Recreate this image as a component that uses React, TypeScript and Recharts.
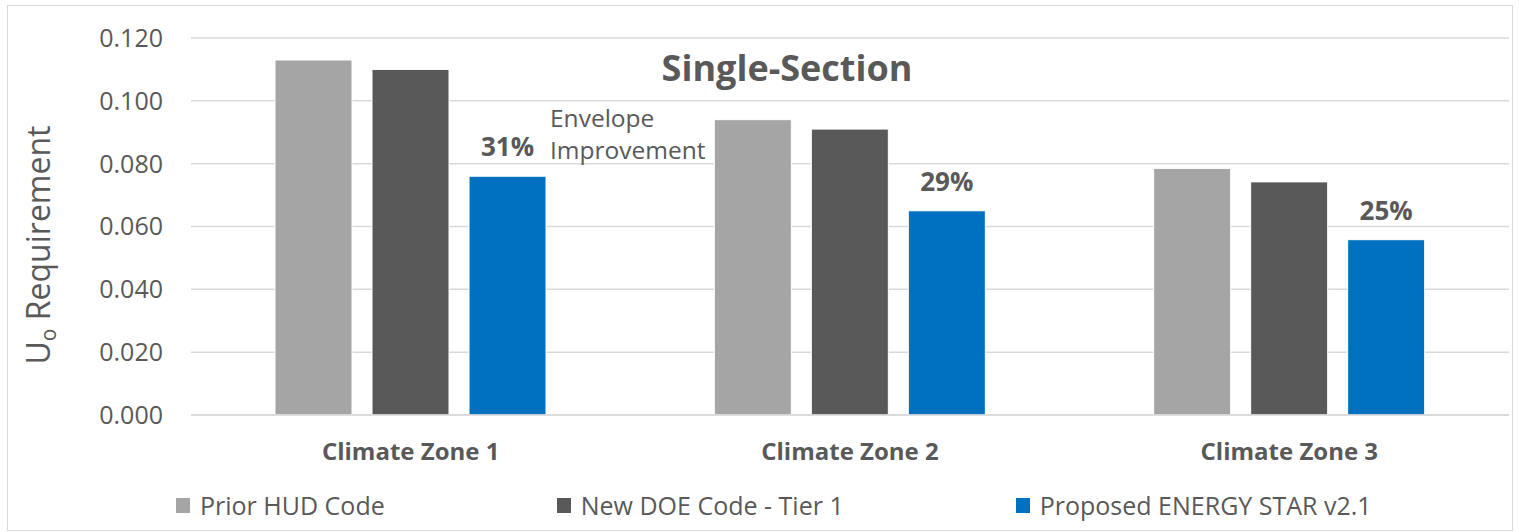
import { BarChart, Bar, XAxis, YAxis, CartesianGrid, LabelList, Label } from 'recharts';

// Valori (U_o richiesto per zona climatica)
const zones = ['Climate Zone 1', 'Climate Zone 2', 'Climate Zone 3'];
const priorHud = [0.113, 0.094, 0.0785];
const newDoe = [0.11, 0.091, 0.0742];
const energyStar = [0.076, 0.065, 0.0558];
const improvement = ['31%', '29%', '25%'];
const yTicks = [0, 0.02, 0.04, 0.06, 0.08, 0.1, 0.12];

const seriesNames = ['Prior HUD Code', 'New DOE Code - Tier 1', 'Proposed ENERGY STAR v2.1'];
const GRAY = '#A5A5A5';
const DARK = '#595959';
const BLUE = '#0070C0';
const TEXT = '#595959';
const GRID = '#D9D9D9';
const FONT = '"Open Sans", "Noto Sans", sans-serif';

const data = zones.map((zone, i) => ({
  zone,
  prior: priorHud[i],
  doe: newDoe[i],
  star: energyStar[i],
}));

function PctLabel(props: any) {
  const { x, y, width, index } = props;
  return (
    <text
      x={Number(x) + Number(width) / 2}
      y={Number(y) - 20}
      textAnchor="middle"
      fill={TEXT}
      fontSize={26}
      fontWeight={700}
      fontFamily={FONT}
    >
      {improvement[index]}
    </text>
  );
}

function YTitle() {
  return (
    <text
      x={33}
      y={239}
      transform="rotate(-90 33 239)"
      textAnchor="middle"
      dominantBaseline="middle"
      fill={TEXT}
      fontSize={32}
      fontFamily={FONT}
    >
      U<tspan fontSize={21} dy={9}>o</tspan>
      <tspan dy={-9}> Requirement</tspan>
    </text>
  );
}

export default function App() {
  const colors = [GRAY, DARK, BLUE];
  return (
    <div
      style={{
        position: 'absolute',
        left: 7,
        top: 5,
        width: 1506,
        height: 526,
        border: `1px solid ${GRID}`,
        boxSizing: 'border-box',
        background: '#fff',
        fontFamily: FONT,
      }}
    >
      <BarChart
        width={1504}
        height={524}
        data={data}
        margin={{ top: 32, right: 3, left: 0, bottom: 85 }}
        barSize={77}
        barGap={20}
      >
        <CartesianGrid stroke={GRID} strokeWidth={1.5} vertical={false} />
        <XAxis
          dataKey="zone"
          height={30}
          axisLine={{ stroke: GRID, strokeWidth: 1.5 }}
          tickLine={false}
          tickMargin={22}
          tick={{ fill: TEXT, fontSize: 24, fontWeight: 700, fontFamily: FONT }}
        />
        <YAxis
          width={183}
          domain={[0, 0.12]}
          ticks={yTicks}
          tickFormatter={(v) => Number(v).toFixed(3)}
          axisLine={false}
          tickLine={false}
          tickMargin={22}
          tick={{ fill: TEXT, fontSize: 25, fontFamily: FONT }}
        >
          <Label content={<YTitle />} />
        </YAxis>
        <Bar dataKey="prior" fill={GRAY} stroke="#fff" strokeWidth={1} isAnimationActive={false} />
        <Bar dataKey="doe" fill={DARK} stroke="#fff" strokeWidth={1} isAnimationActive={false} />
        <Bar dataKey="star" fill={BLUE} stroke="#fff" strokeWidth={1} isAnimationActive={false}>
          <LabelList dataKey="star" content={<PctLabel />} />
        </Bar>
      </BarChart>

      <div
        style={{
          position: 'absolute',
          left: 787 - 8 - 200,
          width: 400,
          top: 68 - 6 - 25,
          height: 50,
          lineHeight: '50px',
          textAlign: 'center',
          fontSize: 36,
          fontWeight: 700,
          color: TEXT,
        }}
      >
        Single-Section
      </div>

      <div
        style={{
          position: 'absolute',
          left: 550 - 8,
          top: 118 - 6 - 16,
          lineHeight: '32px',
          fontSize: 24.5,
          color: TEXT,
        }}
      >
        Envelope
        <br />
        Improvement
      </div>

      <div
        style={{
          position: 'absolute',
          left: 176 - 8,
          top: 505 - 6 - 15,
          height: 30,
          display: 'flex',
          alignItems: 'center',
          gap: 172,
          fontSize: 25,
          color: TEXT,
          whiteSpace: 'nowrap',
        }}
      >
        {seriesNames.map((name, i) => (
          <div key={name} style={{ display: 'flex', alignItems: 'center' }}>
            <span style={{ display: 'inline-block', width: 14, height: 15, background: colors[i], marginRight: 10 }} />
            <span>{name}</span>
          </div>
        ))}
      </div>
    </div>
  );
}
